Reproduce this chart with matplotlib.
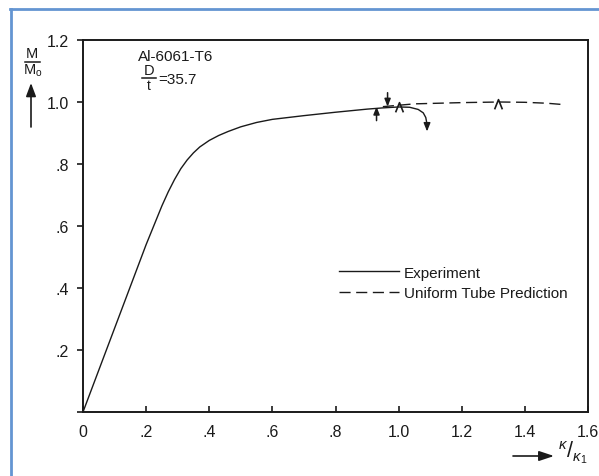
import matplotlib
matplotlib.use("Agg")
import matplotlib.pyplot as plt
from matplotlib.path import Path
from matplotlib.lines import Line2D
from matplotlib.patches import FancyArrowPatch

plt.rcParams["font.family"] = ["Liberation Sans", "DejaVu Sans"]
plt.rcParams["mathtext.fontset"] = "custom"
plt.rcParams["mathtext.rm"] = "Liberation Sans"
plt.rcParams["mathtext.it"] = "Liberation Sans:italic"

# Moment-curvature data, Al-6061-T6 tube, D/t = 35.7
exp_k = [0, 0.10, 0.20, 0.25, 0.27, 0.29, 0.31, 0.33, 0.35, 0.37, 0.40, 0.43,
         0.46, 0.50, 0.55, 0.60, 0.70, 0.80, 0.90, 0.95, 1.00, 1.035, 1.062,
         1.078, 1.086, 1.09]
exp_m = [0, 0.27, 0.54, 0.665, 0.71, 0.75, 0.785, 0.813, 0.836, 0.855, 0.876,
         0.892, 0.905, 0.920, 0.934, 0.944, 0.956, 0.967, 0.977, 0.981, 0.984,
         0.983, 0.976, 0.965, 0.950, 0.928]
arrow_end = (1.09, 0.905)

pred_k = [0.95, 1.05, 1.20, 1.32, 1.40, 1.47, 1.53]
pred_m = [0.985, 0.994, 0.998, 1.0, 0.999, 0.996, 0.991]

# event markers on the curves
up_arrow = (0.93, 0.94, 0.985)
down_arrow = (0.965, 1.03, 0.985)
caret_k = [1.0, 1.315]
caret_m = [0.985, 0.995]

xticks = [0, 0.2, 0.4, 0.6, 0.8, 1.0, 1.2, 1.4, 1.6]
xlabels = ["0", ".2", ".4", ".6", ".8", "1.0", "1.2", "1.4", "1.6"]
yticks = [0, 0.2, 0.4, 0.6, 0.8, 1.0, 1.2]
ylabels = ["", ".2", ".4", ".6", ".8", "1.0", "1.2"]

W, H = 599, 477
fig = plt.figure(figsize=(W / 100, H / 100), dpi=100)
fig.patch.set_facecolor("white")


def fx(px):
    return px / W


def fy(py):
    return 1 - py / H


# blue page frame
frame_c = "#6495d2"
fig.add_artist(Line2D([fx(11), fx(11)], [fy(10), 0], color=frame_c, lw=2.0))
fig.add_artist(Line2D([fx(10), 1], [fy(10), fy(10)], color=frame_c, lw=2.0))

ink = "#1a1a1a"
ax = fig.add_axes([fx(83), fy(413), (588 - 83) / W, (413 - 41) / H])
ax.set_xlim(0, 1.6)
ax.set_ylim(0, 1.2)
for s in ax.spines.values():
    s.set_color(ink)
    s.set_linewidth(1.4)

ax.set_xticks(xticks)
ax.set_xticklabels(xlabels)
ax.set_yticks(yticks)
ax.set_yticklabels(ylabels)
ax.set_xticks([0], minor=True)
ax.tick_params(axis="x", which="major", direction="in", length=4, width=1.2,
               pad=9, labelsize=11.5, colors=ink)
ax.tick_params(axis="x", which="minor", direction="out", length=4, width=1.2)
ax.tick_params(axis="y", direction="out", length=4, width=1.2,
               pad=6, labelsize=11.5, colors=ink)

ax.plot(exp_k, exp_m, color=ink, lw=1.0, label="Experiment")
ax.annotate("", xy=arrow_end, xytext=(exp_k[-1], exp_m[-1]),
            arrowprops=dict(arrowstyle="-|>,head_length=0.5,head_width=0.2",
                            color=ink, lw=1.0, shrinkA=0, shrinkB=0))
ax.plot(pred_k, pred_m, color=ink, lw=1.0, dashes=(8, 4),
        label="Uniform Tube Prediction")

ax.annotate("", xy=(up_arrow[0], up_arrow[2]), xytext=(up_arrow[0], up_arrow[1]),
            arrowprops=dict(arrowstyle="-|>,head_length=0.45,head_width=0.18",
                            color=ink, lw=1.1, shrinkA=0, shrinkB=0))
ax.annotate("", xy=(down_arrow[0], down_arrow[2]), xytext=(down_arrow[0], down_arrow[1]),
            arrowprops=dict(arrowstyle="-|>,head_length=0.45,head_width=0.18",
                            color=ink, lw=1.1, shrinkA=0, shrinkB=0))

caret = Path([(-0.8, -1.0), (0, 1.0), (0.8, -1.0)],
             [Path.MOVETO, Path.LINETO, Path.LINETO])
ax.plot(caret_k, caret_m, ls="none", marker=caret, ms=7, mfc="none",
        mec=ink, mew=1.2)

leg = ax.legend(loc="upper left", bbox_to_anchor=((333 - 83) / 505, 0.41),
                frameon=False, fontsize=11, handlelength=3.9, handletextpad=0.35,
                labelspacing=0.45, borderaxespad=0)
for t in leg.get_texts():
    t.set_color(ink)

# material annotation
fig.text(fx(138), fy(57), "Al-6061-T6", fontsize=11, color=ink, va="center", ha="left")
fig.text(fx(149), fy(71), "D", fontsize=10.5, color=ink, va="center", ha="center")
fig.add_artist(Line2D([fx(142), fx(156)], [fy(78.5), fy(78.5)], color=ink, lw=1.1))
fig.text(fx(149), fy(86), "t", fontsize=10, color=ink, va="center", ha="center")
fig.text(fx(158), fy(80), "=35.7", fontsize=11, color=ink, va="center", ha="left")

# ordinate label
fig.text(fx(32), fy(54), "M", fontsize=10.5, color=ink, va="center", ha="center")
fig.add_artist(Line2D([fx(25), fx(40)], [fy(62.5), fy(62.5)], color=ink, lw=1.1))
fig.text(fx(33), fy(71), r"M$_\mathrm{o}$", fontsize=10.5, color=ink, va="center", ha="center")
fig.add_artist(FancyArrowPatch(
    (fx(31), fy(128)), (fx(31), fy(84)), transform=fig.transFigure,
    arrowstyle="-|>,head_length=8,head_width=3", color=ink, lw=1.2,
    shrinkA=0, shrinkB=0))

# abscissa label
fig.add_artist(FancyArrowPatch(
    (fx(513), fy(457)), (fx(554), fy(457)), transform=fig.transFigure,
    arrowstyle="-|>,head_length=9,head_width=3", color=ink, lw=1.2,
    shrinkA=0, shrinkB=0))
fig.text(fx(558), fy(453), r"$^{\kappa}/_{\kappa_{1}}$", fontsize=15.5, color=ink,
         va="center", ha="left")

fig.savefig("out.png", dpi=100, facecolor="white")
